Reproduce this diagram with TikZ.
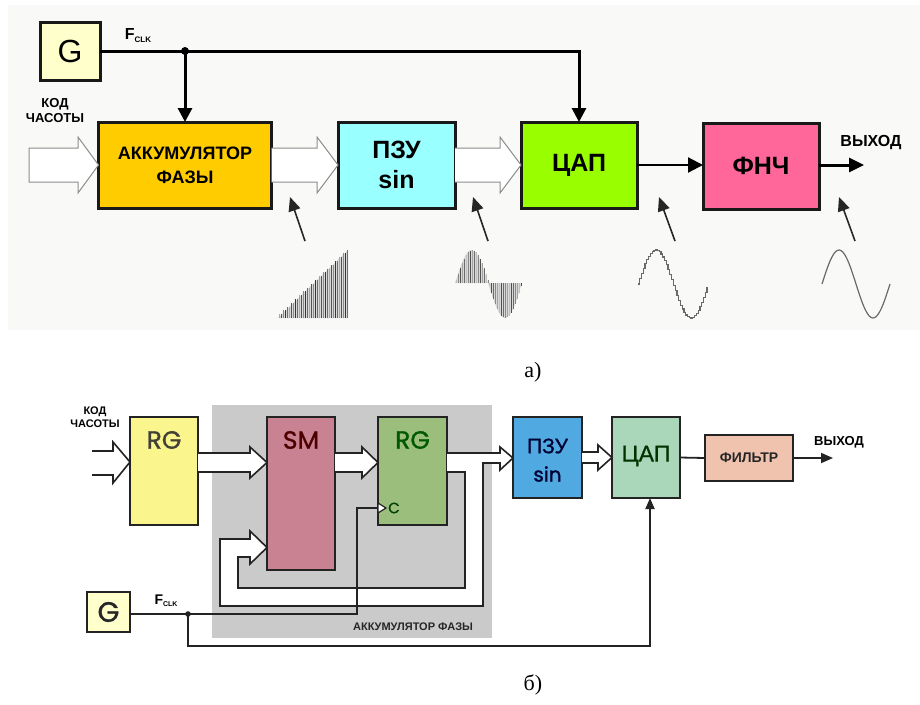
\documentclass[tikz,border=0pt]{standalone}
\usepackage{fontspec}
\setmainfont{Liberation Sans}
\newfontfamily\captionfont{Liberation Serif}
\newfontfamily\geofont{Poppins}
\newfontfamily\geomed[FakeBold=1.2]{Poppins}
\newfontfamily\cyrmed[FakeBold=0.8]{Liberation Sans}
\usetikzlibrary{arrows.meta,calc}

\definecolor{topbg}{RGB}{249,249,247}
\definecolor{gfill}{RGB}{255,255,204}
\definecolor{accfill}{RGB}{255,204,0}
\definecolor{romfill}{RGB}{153,255,255}
\definecolor{dacfill}{RGB}{153,255,0}
\definecolor{lpffill}{RGB}{255,102,153}
\definecolor{hollowgray}{RGB}{140,140,140}
\definecolor{waveg}{RGB}{105,105,105}
\definecolor{accgray}{RGB}{202,202,202}
\definecolor{rgyel}{RGB}{250,245,140}
\definecolor{smfill}{RGB}{200,130,145}
\definecolor{rggreen}{RGB}{155,190,125}
\definecolor{romblue}{RGB}{80,170,225}
\definecolor{dacmint}{RGB}{170,215,185}
\definecolor{fltfill}{RGB}{240,195,175}
\definecolor{edge}{RGB}{35,35,35}

\tikzset{
  topbox/.style={draw=black!90, line width=3pt, inner sep=0pt, outer sep=0pt,
    align=center, font=\bfseries\fontsize{25}{30}\selectfont},
  botbox/.style={draw=edge, line width=2pt, inner sep=0pt, outer sep=0pt},
  hollowtop/.style={draw=hollowgray, line width=1pt, fill=white},
  hollowbot/.style={draw=edge, line width=1.6pt, fill=white, line join=miter},
  clkline/.style={line width=3pt, draw=black},
  sigline/.style={line width=2.2pt, draw=black},
  pointer/.style={line width=1.6pt, draw=black!85, -{Triangle[length=14pt,width=12pt]}},
  bigtip/.style={-{Triangle[length=14pt,width=14pt]}},
  wire/.style={line width=1.8pt, draw=edge},
  wavebar/.style={line width=1pt},
  lbl/.style={font=\bfseries\fontsize{13}{15}\selectfont, inner sep=0pt},
  geolbl/.style={font=\geomed\fontsize{25}{25}\selectfont, inner sep=0pt},
}

\begin{document}
\begin{tikzpicture}[x=1pt,y=-1pt]
\useasboundingbox (0,0) rectangle (920,704);

% ---------------- a) direct digital synthesis, block scheme ----------------
\fill[topbg] (8,5) rectangle (920,330);

\node[topbox, fill=gfill, minimum width=60pt, minimum height=58pt,
      font=\fontsize{32}{32}\selectfont] (g) at (70,51) {G};
\node[topbox, fill=accfill, minimum width=173pt, minimum height=86pt,
      font=\bfseries\fontsize{18}{24}\selectfont] (acc) at (185,165) {АККУМУЛЯТОР\\ФАЗЫ};
\node[topbox, fill=romfill, minimum width=117pt, minimum height=86pt] (rom) at (396.5,165) {ПЗУ\\sin};
\node[topbox, fill=dacfill, minimum width=116pt, minimum height=86pt] (dac) at (579,165) {ЦАП};
\node[topbox, fill=lpffill, minimum width=116pt, minimum height=86pt] (lpf) at (761,166) {ФНЧ};

\node[inner sep=0pt] (fclk) at (138,36) {\bfseries\fontsize{16}{16}\selectfont F\raisebox{-3pt}{\fontsize{8}{8}\selectfont CLK}};
\node[lbl, align=center, font=\bfseries\fontsize{13}{15}\selectfont] (code) at (55,111) {КОД\\ЧАСОТЫ};
\node[lbl, font=\bfseries\fontsize{16}{16}\selectfont] (outlbl) at (871,143) {ВЫХОД};

% clock distribution
\coordinate (clkdot) at (185,51);
\draw[clkline, bigtip] (g.east) -- (clkdot) -| (dac.north);
\draw[clkline, bigtip] (clkdot) -- (acc.north);
\fill (clkdot) circle (4pt);

% parallel data buses
\draw[hollowtop] (29,148) -- (78,148) -- (78,137) -- (acc.west) -- (78,193) -- (78,182) -- (29,182) -- cycle;
\draw[hollowtop] ($(acc.east)+(0,-17)$) -- (317,148) -- (317,137) -- (rom.west)
   -- (317,193) -- (317,182) -- ($(acc.east)+(0,17)$);
\draw[hollowtop] ($(rom.east)+(0,-17)$) -- (500,148) -- (500,137) -- (dac.west)
   -- (500,193) -- (500,182) -- ($(rom.east)+(0,17)$);

% analog path
\draw[sigline, {-Triangle[length=15pt,width=15pt]}] (dac.east) -- (dac.east -| lpf.west);
\coordinate (yout) at (864,165);
\draw[line width=3pt, -{Triangle[length=15pt,width=14pt]}] (lpf.east |- yout) -- (yout);

% pointers to the waveforms
\coordinate (p1a) at (305,241); \coordinate (p1b) at (290,197);
\coordinate (p2a) at (488,241); \coordinate (p2b) at (473,197);
\coordinate (p3a) at (675,241); \coordinate (p3b) at (659,197);
\coordinate (p4a) at (855,241); \coordinate (p4b) at (839,197);
\draw[pointer] (p1a) -- (p1b);
\draw[pointer] (p2a) -- (p2b);
\draw[pointer] (p3a) -- (p3b);
\draw[pointer] (p4a) -- (p4b);

% phase ramp
\fill[black!15] (278,318) -- (348,318) -- (348,250) -- cycle;
\foreach \i in {0,...,34}{
  \pgfmathsetmacro{\xx}{279+2*\i}
  \pgfmathsetmacro{\hh}{2+1.9*(2*floor(\i/2)+1)}
  \pgfmathtruncatemacro{\sh}{35+mod(\i*23,5)*11}
  \draw[wavebar, black!\sh] (\xx,318) -- (\xx,318-\hh);
}
% sampled sine
\fill[black!15] plot[domain=455:488, samples=20] (\x, {283-33*sin(5.4545*(\x-455))}) -- cycle;
\fill[black!15] plot[domain=488:522, samples=20] (\x, {283+35*sin(5.2941*(\x-488))}) -- cycle;
\foreach \i in {0,...,16}{
  \pgfmathsetmacro{\xx}{456+2*\i}
  \pgfmathsetmacro{\hh}{33*sin(180*(2*\i+1)/34)}
  \pgfmathtruncatemacro{\sh}{25+mod(\i*17,5)*11}
  \draw[wavebar, black!\sh] (\xx,283) -- (\xx,283-\hh);
}
\foreach \i in {0,...,16}{
  \pgfmathsetmacro{\xx}{489+2*\i}
  \pgfmathsetmacro{\hh}{35*sin(180*(2*\i+1)/34)}
  \pgfmathtruncatemacro{\sh}{25+mod(\i*19,5)*11}
  \draw[wavebar, black!\sh] (\xx,283) -- (\xx,283+\hh);
}
% stepped DAC output
\draw[waveg, line width=1.2pt] plot[const plot, domain=638:707, samples=40]
  (\x, {284-34*sin(5.142857*(\x-638))});
% filtered output
\draw[waveg, line width=1.2pt] plot[smooth, domain=822:890, samples=40]
  (\x, {284-34*sin(5.294118*(\x-822))});

\node[font=\captionfont\fontsize{22}{22}\selectfont, inner sep=0pt] (capa) at (533,372) {а)};

% ---------------- b) structure with the phase accumulator ----------------
\fill[accgray] (212,405) rectangle (492,638);
\node[inner sep=0pt, font=\bfseries\fontsize{11}{11}\selectfont, text=black!85] (acclbl) at (413,627) {АККУМУЛЯТОР ФАЗЫ};

\node[botbox, fill=rgyel, minimum width=68pt, minimum height=108pt] (rg1) at (164,471) {};
\node[botbox, fill=smfill, minimum width=68pt, minimum height=153pt] (sm) at (301,493.5) {};
\node[botbox, fill=rggreen, minimum width=69pt, minimum height=108pt] (rg2) at (412.5,471) {};
\node[botbox, fill=romblue, minimum width=69pt, minimum height=81pt] (rom2) at (547.5,457.5) {};
\node[botbox, fill=dacmint, minimum width=68pt, minimum height=81pt] (dac2) at (646,457.5) {};
\node[botbox, fill=fltfill, minimum width=88pt, minimum height=46pt,
      font=\bfseries\fontsize{14}{14}\selectfont, text=black!85] (flt) at (749,458) {ФИЛЬТР};
\node[botbox, fill=gfill, minimum width=43pt, minimum height=40pt,
      font=\geomed\fontsize{28}{28}\selectfont, text=black!85] (g2) at (108.5,612) {G};

\node[geolbl, text=black!85!yellow] (rg1t) at (164,440) {RG};
\node[geolbl, text=black!70!red] (smt) at (301,440) {SM};
\node[geolbl, text=black!65!green] (rg2t) at (412.5,440) {RG};
\node[font=\cyrmed\fontsize{21}{21}\selectfont, text=black!80!blue, inner sep=0pt] (rom2a) at (547.5,446) {ПЗУ};
\node[font=\geomed\fontsize{20}{20}\selectfont, text=black!80!blue, inner sep=0pt] (rom2b) at (547.5,474) {sin};
\node[font=\cyrmed\fontsize{23}{23}\selectfont, text=black!80!green, inner sep=0pt] (dac2t) at (646,456) {ЦАП};
\node[font=\geomed\fontsize{15}{15}\selectfont, text=black!75!green, inner sep=0pt] (clkc) at (394,508) {C};

\node[lbl, align=center, font=\bfseries\fontsize{11}{13}\selectfont] (code2) at (95,417) {КОД\\ЧАСОТЫ};
\node[lbl, font=\bfseries\fontsize{13}{13}\selectfont] (out2lbl) at (839,442) {ВЫХОД};
\node[inner sep=0pt] (fclk2) at (166,601) {\bfseries\fontsize{14}{14}\selectfont F\raisebox{-2pt}{\fontsize{7}{7}\selectfont CLK}};

% frequency code input
\draw[hollowbot, fill=none] (92,451) -- (113,451) -- (113,442) -- ($(rg1.west)+(0,-9)$)
   -- (113,483) -- (113,475) -- (92,475);
% buses inside the accumulator
\draw[hollowbot] (rg1.east |- 0,453) -- (250,453) -- (250,447) -- ($(sm.west)+(0,-31)$)
   -- (250,478) -- (250,472) -- (rg1.east |- 0,472);
\draw[hollowbot] (sm.east |- 0,453) -- (362,453) -- (362,447) -- ($(rg2.west)+(0,-8.5)$)
   -- (362,478) -- (362,472) -- (sm.east |- 0,472);
% register output: to the ROM and back to the adder
\draw[hollowbot] (rg2.east |- 0,453) -- (500,453) -- (500,447) -- ($(rom2.west)+(0,0.5)$)
   -- (500,470) -- (500,463) -- (483,463) -- (483,606) -- (220,606) -- (220,539)
   -- (250,539) -- (250,531) -- ($(sm.west)+(0,54)$) -- (250,564) -- (250,557)
   -- (238,557) -- (238,588) -- (465,588) -- (465,472) -- (rg2.east |- 0,472);
% ROM to DAC
\draw[hollowbot] (rom2.east |- 0,452) -- (598,452) -- (598,445) -- (dac2.west)
   -- (598,470) -- (598,463) -- (rom2.east |- 0,463);

% clock
\coordinate (clk2dot) at (188,614);
\coordinate (clkup) at (357,614);
\coordinate (clkin) at (378,508);
\draw[wire] (g2.east |- clk2dot) -- (clk2dot) -- (clkup) -- (clkup |- clkin) -- (clkin);
\draw[edge, line width=1.2pt, fill=white] (378,503) -- (386,508) -- (378,513) -- cycle;
\fill[edge] (clk2dot) circle (2.8pt);
\coordinate (clkbot) at (188,646);
\draw[wire, -{Triangle[length=11pt,width=9pt]}] (clk2dot) -- (clkbot) -| ($(dac2.south)+(4,0)$);

% analog output
\draw[wire] (dac2.east) -- (flt.west);
\coordinate (out2) at (833,458);
\draw[wire, -{Triangle[length=12pt,width=10pt]}] (flt.east) -- (out2);

\node[font=\captionfont\fontsize{22}{22}\selectfont, inner sep=0pt] (capb) at (533,685) {б)};
\end{tikzpicture}
\end{document}
